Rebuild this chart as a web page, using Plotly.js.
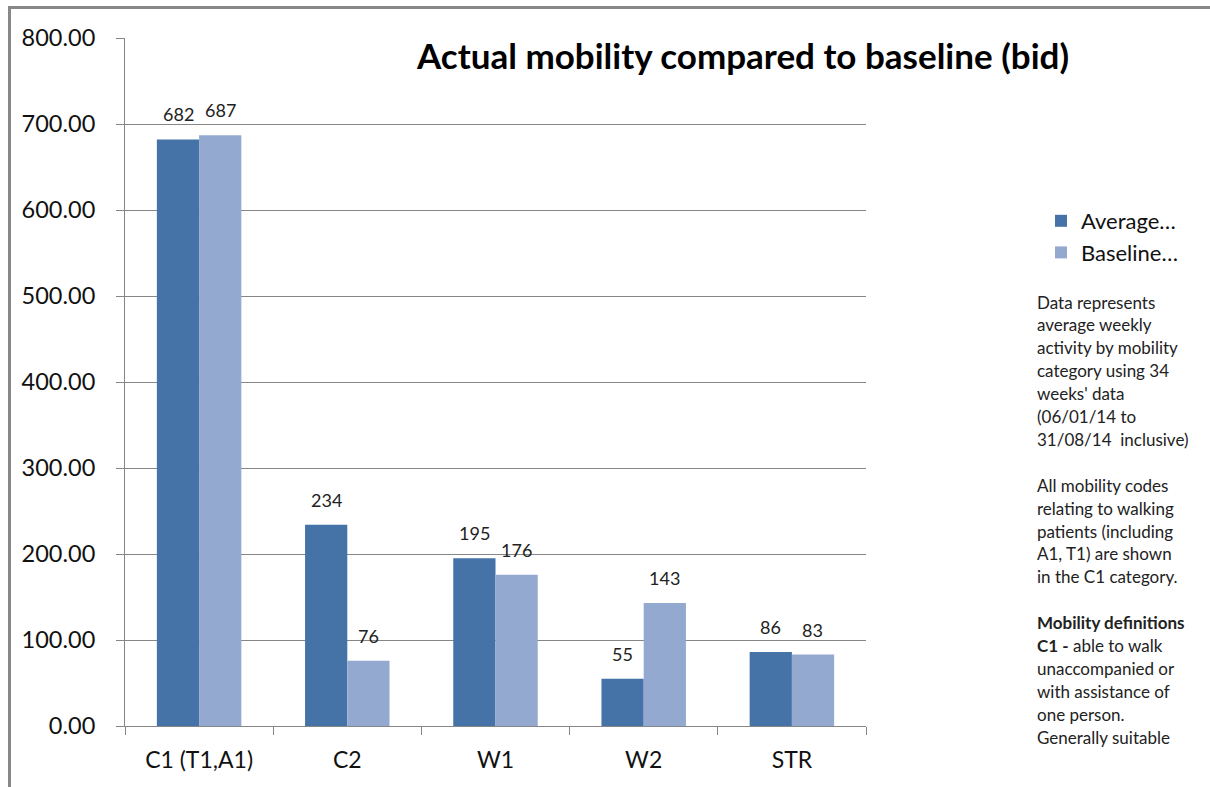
<!DOCTYPE html>
<html>
<head>
<meta charset="utf-8">
<script src="https://cdn.plot.ly/plotly-3.0.1.min.js"></script>
<style>
  html, body { margin: 0; padding: 0; background: #fff; width: 1210px; height: 787px; overflow: hidden; }
  #frame { position: absolute; left: 8px; top: 6px; border-top: 3px solid #888; border-left: 3px solid #888; }
  #chart { width: 1199px; height: 778px; }
</style>
</head>
<body>
<div id="frame"><div id="chart"></div></div>
<script>
const categories = ["C1 (T1,A1)", "C2", "W1", "W2", "STR"];
const averageValues = [682, 234, 195, 55, 86];
const baselineValues = [687, 76, 176, 143, 83];
const seriesNames = ["Average…", "Baseline…"];
const titleText = "Actual mobility compared to baseline (bid)";
const noteLines = [
  "Data represents",
  "average weekly",
  "activity by mobility",
  "category using 34",
  "weeks' data",
  "(06/01/14 to",
  "31/08/14  inclusive)",
  "",
  "All mobility codes",
  "relating to walking",
  "patients (including",
  "A1, T1) are shown",
  "in the C1 category.",
  "",
  "<b>Mobility definitions</b>",
  "<b>C1 -</b> able to walk",
  "unaccompanied or",
  "with assistance of",
  "one person.",
  "Generally suitable"
];

const FONT = "Lato, 'Open Sans', sans-serif";
const gray = "#868686";

const H = 778, mt = 29, mb = 61, ml = 114, mr = 344;
const plotH = H - mt - mb;
const plotW = 1199 - ml - mr;

const traces = [
  {
    type: "bar", name: seriesNames[0], x: categories, y: averageValues,
    marker: { color: "#4572A7" }, hoverinfo: "x+y"
  },
  {
    type: "bar", name: seriesNames[1], x: categories, y: baselineValues,
    marker: { color: "#93A9CF" }, hoverinfo: "x+y"
  }
];

// value labels placed above each bar via the axes' scales
const barHalf = 21;
const labelAnn = [];
[[averageValues, -barHalf], [baselineValues, barHalf]].forEach(([vals, dx]) => {
  vals.forEach((v, i) => {
    labelAnn.push({
      xref: "x", yref: "y", x: categories[i], y: v,
      xshift: dx, yshift: 25, yanchor: "middle", xanchor: "center",
      text: String(v), showarrow: false,
      font: { family: FONT, size: 18, color: "#222" }
    });
  });
});

const noteAnn = noteLines.map((t, i) => ({
  xref: "paper", yref: "paper",
  x: (1024 - ml) / plotW,
  y: 1 - ((293 + i * 22.9) - mt) / plotH,
  xanchor: "left", yanchor: "middle",
  text: t, showarrow: false, align: "left",
  font: { family: FONT, size: 17, color: "#222" }
}));

const layout = {
  width: 1199, height: 778,
  margin: { l: ml, r: mr, t: mt, b: mb, pad: 0 },
  paper_bgcolor: "#fff", plot_bgcolor: "#fff",
  font: { family: FONT, color: "#111" },
  barmode: "group", bargap: 0.43, bargroupgap: 0,
  title: {
    text: "<b>" + titleText + "</b>",
    font: { family: FONT, size: 35, color: "#000" },
    xref: "paper", x: (732 - ml) / plotW, xanchor: "center",
    yref: "container", y: 1 - 48 / H, yanchor: "middle"
  },
  xaxis: {
    type: "category",
    showline: true, linecolor: gray, linewidth: 1,
    ticks: "outside", tickson: "boundaries", ticklen: 8, tickcolor: gray,
    ticklabelstandoff: 13,
    tickfont: { family: FONT, size: 23, color: "#111" },
    showgrid: false, zeroline: false, fixedrange: true
  },
  yaxis: {
    range: [0, 800], dtick: 100, tickformat: ".2f",
    showline: true, linecolor: gray, linewidth: 1,
    ticks: "outside", ticklen: 8, tickcolor: gray,
    ticklabelstandoff: 16,
    tickfont: { family: FONT, size: 23.5, color: "#111" },
    showgrid: true, gridcolor: gray, gridwidth: 1,
    zeroline: false, fixedrange: true
  },
  legend: {
    x: (1030 - ml) / plotW, xanchor: "left",
    y: 1 - (191 - mt) / plotH, yanchor: "top",
    font: { family: FONT, size: 22, color: "#111" },
    bgcolor: "rgba(0,0,0,0)", itemclick: false
  },
  shapes: [
    { type: "rect", xref: "paper", yref: "y", x0: (740 - 125) / plotW, x1: 1.02, y0: 795, y1: 806,
      fillcolor: "#fff", line: { width: 0 }, layer: "above" }
  ],
  annotations: labelAnn.concat(noteAnn)
};

Plotly.newPlot("chart", traces, layout, { displayModeBar: false });
</script>
</body>
</html>
